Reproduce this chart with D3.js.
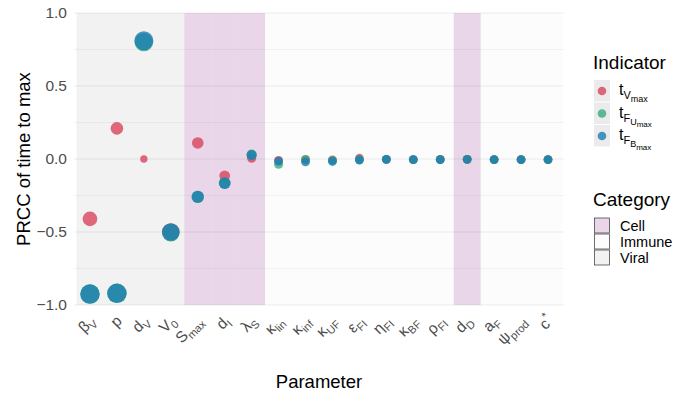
<!DOCTYPE html>
<html>
<head>
<meta charset="utf-8">
<script src="https://cdn.jsdelivr.net/npm/d3@7"></script>
<style>
  html, body { margin: 0; padding: 0; background: #fff; }
  svg { display: block; font-family: "Liberation Sans", Arial, Helvetica, sans-serif; }
</style>
</head>
<body>
<svg id="chart" width="686" height="403"></svg>
<script>
// Parameters (x axis): base symbol, subscript, superscript
const paramBase = ["β", "p", "d", "V", "S", "d", "λ", "κ", "κ", "κ", "ε", "η", "κ", "ρ", "d", "a", "ψ", "c"];
const paramSub  = ["V", "", "V", "0", "max", "I", "S", "lin", "inf", "UF", "FI", "FI", "BF", "FI", "D", "F", "prod", ""];
const paramSup  = ["", "", "", "", "", "", "", "", "", "", "", "", "", "", "", "", "", "*"];
const paramCategory = ["Viral", "Viral", "Viral", "Viral", "Cell", "Cell", "Cell",
  "Immune", "Immune", "Immune", "Immune", "Immune", "Immune", "Immune", "Cell",
  "Immune", "Immune", "Immune"];

// PRCC values per indicator
const prccV  = [-0.41, 0.21, 0.00, -0.50, 0.11, -0.115, 0.005, -0.010, -0.004, -0.006, 0.005, -0.002, -0.004, -0.003, -0.002, -0.004, -0.004, -0.004];
const prccFU = [-0.925, -0.92, 0.80, -0.505, -0.26, -0.165, 0.030, -0.036, -0.002, -0.010, -0.005, -0.002, -0.004, -0.004, -0.002, -0.004, -0.004, -0.004];
const prccFB = [-0.925, -0.92, 0.81, -0.50, -0.26, -0.165, 0.027, -0.014, -0.020, -0.017, -0.007, -0.002, -0.004, -0.004, -0.002, -0.004, -0.004, -0.004];

// Point size weights per indicator
const sizeV  = [0.62, 0.47, 0.10, 0.82, 0.40, 0.34, 0.22, 0.20, 0.20, 0.20, 0.20, 0.20, 0.20, 0.20, 0.20, 0.20, 0.20, 0.20];
const sizeFU = [0.96, 0.96, 0.88, 0.82, 0.45, 0.41, 0.30, 0.22, 0.20, 0.20, 0.20, 0.20, 0.20, 0.20, 0.20, 0.20, 0.20, 0.20];
const sizeFB = [0.96, 0.96, 0.93, 0.82, 0.45, 0.41, 0.30, 0.20, 0.20, 0.20, 0.20, 0.20, 0.20, 0.20, 0.20, 0.20, 0.20, 0.20];

const yTicks = [-1.0, -0.5, 0.0, 0.5, 1.0];
const yMinor = [-0.75, -0.25, 0.25, 0.75];

const categoryNames = ["Cell", "Immune", "Viral"];
const categoryFill  = ["#e9d7e9", "#fcfcfc", "#f2f2f2"];

const indicatorColor = ["#d8435b", "#38ab7c", "#1a7db3"];

const params = paramBase.map((b, i) => "p" + i);
const series = [
  { key: "V",  values: prccV,  sizes: sizeV,  sub: ["V", "max"] },
  { key: "FU", values: prccFU, sizes: sizeFU, sub: ["F", "U", "max"] },
  { key: "FB", values: prccFB, sizes: sizeFB, sub: ["F", "B", "max"] }
];

const svg = d3.select("#chart");

const x = d3.scaleBand().domain(params).range([76.5, 561.5]).padding(0);
const y = d3.scaleLinear().domain([-1, 1]).range([305, 13]);
const r = d3.scaleLinear().domain([0, 1]).range([3, 10]);
const fillScale = d3.scaleOrdinal().domain(categoryNames).range(categoryFill);
const colorScale = d3.scaleOrdinal().domain(series.map(s => s.key)).range(indicatorColor);

const panelLeft = 74, panelRight = 564;

// category bands
svg.append("g").selectAll("rect")
  .data(params)
  .join("rect")
  .attr("x", d => x(d))
  .attr("width", x.bandwidth() + 0.4)
  .attr("y", y(1))
  .attr("height", y(-1) - y(1))
  .attr("fill", (d, i) => fillScale(paramCategory[i]));

// grid lines
const grid = svg.append("g");
grid.selectAll("line.minor")
  .data(yMinor)
  .join("line")
  .attr("class", "minor")
  .attr("x1", panelLeft).attr("x2", panelRight)
  .attr("y1", d => y(d)).attr("y2", d => y(d))
  .attr("stroke", "rgba(0,0,0,0.055)")
  .attr("stroke-width", 0.8);
grid.selectAll("line.major")
  .data(yTicks)
  .join("line")
  .attr("class", "major")
  .attr("x1", panelLeft).attr("x2", panelRight)
  .attr("y1", d => y(d)).attr("y2", d => y(d))
  .attr("stroke", "rgba(0,0,0,0.075)")
  .attr("stroke-width", 1.2);

// y axis labels
const yAxis = svg.append("g").attr("transform", `translate(${panelLeft - 7},0)`)
  .call(d3.axisLeft(y).tickValues(yTicks).tickSize(0).tickPadding(0).tickFormat(d3.format(".1f")));
yAxis.select(".domain").remove();
yAxis.selectAll("text")
  .attr("fill", "#4d4d4d")
  .attr("font-size", 15.5)
  .attr("font-family", "Liberation Sans, Arial, sans-serif");

// points
series.forEach(s => {
  svg.append("g").selectAll("circle")
    .data(params)
    .join("circle")
    .attr("cx", d => x(d) + x.bandwidth() / 2)
    .attr("cy", (d, i) => y(s.values[i]))
    .attr("r", (d, i) => r(s.sizes[i]))
    .attr("fill", colorScale(s.key))
    .attr("fill-opacity", 0.8);
});

// x axis labels
const xl = svg.append("g");
params.forEach((p, i) => {
  const cx = x(p) + x.bandwidth() / 2;
  const t = xl.append("text")
    .attr("transform", `translate(${cx + 6},${322}) rotate(-45)`)
    .attr("text-anchor", "end")
    .attr("fill", "#4d4d4d")
    .attr("font-size", 15.5);
  t.append("tspan").text(paramBase[i]);
  if (paramSub[i]) t.append("tspan").attr("font-size", 11).attr("dy", 4).text(paramSub[i]);
  if (paramSup[i]) t.append("tspan").attr("font-size", 11).attr("dy", -7).text(paramSup[i]);
});

// axis titles
svg.append("text")
  .attr("x", (panelLeft + panelRight) / 2).attr("y", 388)
  .attr("text-anchor", "middle")
  .attr("font-size", 18.5)
  .attr("fill", "#000")
  .text("Parameter");
svg.append("text")
  .attr("transform", `translate(30,${y(0)}) rotate(-90)`)
  .attr("text-anchor", "middle")
  .attr("font-size", 18.5)
  .attr("fill", "#000")
  .text("PRCC of time to max");

// legend: Indicator
const lg1 = svg.append("g").attr("transform", "translate(593,0)");
lg1.append("text").attr("x", 0).attr("y", 69).attr("font-size", 19).text("Indicator");
const rowY = [80, 102.5, 125];
series.forEach((s, i) => {
  lg1.append("rect").attr("x", 1).attr("y", rowY[i]).attr("width", 16).attr("height", 21.5).attr("fill", "#ebebeb");
  lg1.append("circle").attr("cx", 9).attr("cy", rowY[i] + 11).attr("r", 4.3)
    .attr("fill", colorScale(s.key)).attr("fill-opacity", 0.8);
  const t = lg1.append("text").attr("x", 26).attr("y", rowY[i] + 15).attr("font-size", 16);
  t.append("tspan").text("t");
  const sizes = [11, 9, 8];
  const shifts = [4, 3, 2.5];
  s.sub.forEach((sb, j) => {
    t.append("tspan").attr("font-size", sizes[j]).attr("dy", shifts[j]).text(sb);
  });
});

// legend: Category
const lg2 = svg.append("g").attr("transform", "translate(593,0)");
lg2.append("text").attr("x", 0).attr("y", 206).attr("font-size", 19).text("Category");
const catY = [218, 234, 250];
categoryNames.forEach((c, i) => {
  lg2.append("rect").attr("x", 1.5).attr("y", catY[i]).attr("width", 15).attr("height", 15)
    .attr("fill", fillScale(c)).attr("stroke", "#333").attr("stroke-width", 0.7);
  lg2.append("text").attr("x", 27).attr("y", catY[i] + 12.5).attr("font-size", 14.5).text(c);
});
</script>
</body>
</html>
